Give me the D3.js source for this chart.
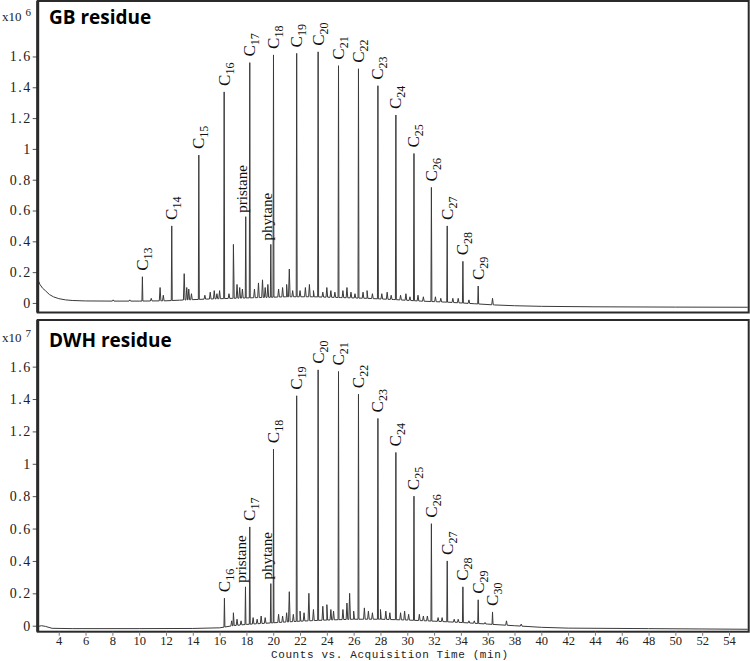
<!DOCTYPE html>
<html><head><meta charset="utf-8">
<script src="https://cdn.jsdelivr.net/npm/d3@7"></script>
<style>body{margin:0;background:#fff}svg{display:block}</style>
</head><body>
<script>
// ---------- DATA ----------
const xTickValues = [4,6,8,10,12,14,16,18,20,22,24,26,28,30,32,34,36,38,40,42,44,46,48,50,52,54];
const yTickValues = [0,0.2,0.4,0.6,0.8,1,1.2,1.4,1.6];
const xTitle = "Counts vs. Acquisition Time (min)";

// GB residue (x10^6)
const gbTitle = "GB residue";
const gbExp = "6";
const gbLabels = ["C13","C14","C15","C16","pristane","C17","phytane","C18","C19","C20","C21","C22","C23","C24","C25","C26","C27","C28","C29"];
const gbTimes  = [10.24,12.43,14.45,16.34,17.95,18.25,19.82,20.02,21.75,23.35,24.87,26.36,27.81,29.15,30.5,31.8,32.98,34.15,35.29];
const gbHeights= [0.17,0.50,0.96,1.37,0.56,1.56,0.38,1.61,1.62,1.63,1.54,1.52,1.41,1.22,0.97,0.75,0.50,0.27,0.11];
const gbBaseT = [2.45,2.6,2.8,3.0,3.3,3.6,4.0,4.5,5.0,6,8,10,12,13,15,17,19,21,23,25,27,29,31,33,35,36.5,38,40,44,50,55.4];
const gbBaseV = [0.15,0.12,0.095,0.08,0.055,0.04,0.028,0.02,0.016,0.013,0.012,0.012,0.014,0.018,0.025,0.03,0.035,0.04,0.04,0.035,0.03,0.022,0.012,0.005,-0.005,-0.013,-0.018,-0.022,-0.025,-0.027,-0.028];
const gbMinorT = [8.06,9.3,10.9,11.56,11.8,13.36,13.55,13.7,13.9,14.9,15.3,15.6,15.8,16.0,16.7,17.03,17.3,17.5,17.7,18.6,18.9,19.2,19.4,19.6,20.4,20.7,21.0,21.2,21.45,22.0,22.4,22.7,23.0,23.7,24.0,24.3,24.6,25.2,25.5,25.8,26.1,26.7,27.0,27.4,28.1,28.5,28.8,29.5,29.9,30.2,30.8,31.2,32.1,32.5,33.4,33.8,34.6,36.36];
const gbMinorV = [0.02,0.02,0.03,0.10,0.05,0.19,0.10,0.09,0.06,0.05,0.07,0.08,0.06,0.08,0.06,0.38,0.12,0.10,0.09,0.09,0.13,0.15,0.10,0.12,0.09,0.10,0.12,0.22,0.08,0.08,0.10,0.12,0.08,0.07,0.10,0.08,0.07,0.08,0.10,0.07,0.06,0.07,0.08,0.06,0.06,0.07,0.05,0.05,0.06,0.04,0.05,0.04,0.04,0.03,0.03,0.03,0.02,0.03];

// DWH residue (x10^7)
const dwhTitle = "DWH residue";
const dwhExp = "7";
const dwhLabels = ["C16","pristane","C17","phytane","C18","C19","C20","C21","C22","C23","C24","C25","C26","C27","C28","C29","C30"];
const dwhTimes  = [16.36,17.93,18.25,19.82,20.02,21.75,23.35,24.87,26.36,27.81,29.15,30.5,31.8,32.98,34.15,35.29,36.36];
const dwhHeights= [0.17,0.24,0.61,0.26,1.09,1.42,1.58,1.57,1.43,1.28,1.07,0.80,0.63,0.40,0.24,0.16,0.085];
const dwhBaseT = [2.45,2.7,3.0,3.5,5,10,14,16,17,18,20,22,24,26,28,30,32,34,36,38,40,42,48,55.4];
const dwhBaseV = [-0.005,0.0,-0.004,-0.016,-0.018,-0.018,-0.017,-0.013,0.0,0.008,0.018,0.028,0.035,0.04,0.04,0.035,0.028,0.02,0.01,0.0,-0.01,-0.015,-0.018,-0.022];
const dwhMinorT = [16.9,17.03,17.3,17.6,18.5,18.8,19.1,19.4,20.4,20.7,21.0,21.2,21.5,22.0,22.3,22.66,23.0,23.7,24.0,24.3,24.5,25.2,25.5,25.7,26.0,26.8,27.1,27.4,28.0,28.4,28.7,29.5,29.8,30.1,30.9,31.2,31.5,32.3,32.6,33.5,33.8,34.6,35.0,35.8,37.4,38.5];
const dwhMinorV = [0.03,0.08,0.04,0.03,0.05,0.04,0.06,0.05,0.07,0.06,0.08,0.21,0.07,0.09,0.08,0.20,0.10,0.12,0.13,0.10,0.09,0.10,0.14,0.20,0.09,0.11,0.09,0.08,0.10,0.09,0.08,0.08,0.09,0.07,0.07,0.06,0.06,0.05,0.05,0.04,0.04,0.03,0.03,0.02,0.03,0.01];

// ---------- DRAW ----------
const W = 750, H = 661;
const svg = d3.select("body").append("svg").attr("width", W).attr("height", H);
const x = d3.scaleLinear().domain([2.43, 55.47]).range([37.7, 748.7]);

const panels = [
  {title: gbTitle, exp: gbExp, labels: gbLabels, times: gbTimes, heights: gbHeights,
   baseT: gbBaseT, baseV: gbBaseV, minT: gbMinorT, minV: gbMinorV,
   top: 1, bottom: 312.5, yDomain: [-0.062, 1.96], titleY: 23.5, expY: 21, axis: false},
  {title: dwhTitle, exp: dwhExp, labels: dwhLabels, times: dwhTimes, heights: dwhHeights,
   baseT: dwhBaseT, baseV: dwhBaseV, minT: dwhMinorT, minV: dwhMinorV,
   top: 320, bottom: 631.7, yDomain: [-0.037, 1.888], titleY: 346.5, expY: 342, axis: true}
];

const fmt = d => (Math.round(d*10)/10).toString();

panels.forEach((p, i) => {
  const y = d3.scaleLinear().domain(p.yDomain).range([p.bottom, p.top]);
  const base = d3.scaleLinear().domain(p.baseT).range(p.baseV).clamp(true);
  const g = svg.append("g");
  const clipId = "clip" + i;
  svg.append("clipPath").attr("id", clipId).append("rect")
    .attr("x", x.range()[0]).attr("y", p.top).attr("width", x.range()[1]-x.range()[0]).attr("height", p.bottom-p.top);

  // build trace
  const pts = p.baseT.map((t, k) => [t, p.baseV[k]]);
  const addPeak = (t, v, w) => {
    pts.push([t - w, base(t - w)]);
    pts.push([t, v]);
    pts.push([t + w, base(t + w)]);
  };
  p.minT.forEach((t, k) => addPeak(t, Math.max(p.minV[k], base(t)), 0.06));
  p.times.forEach((t, k) => addPeak(t, p.heights[k], 0.035));
  pts.sort((a, b) => a[0] - b[0]);
  g.append("path").attr("clip-path", `url(#${clipId})`)
    .attr("d", d3.line().x(d => x(d[0])).y(d => y(d[1]))(pts))
    .attr("fill", "none").attr("stroke", "#3a3a3a").attr("stroke-width", 1);

  // y axis
  const ya = g.append("g").attr("transform", `translate(${x.range()[0]},0)`)
    .call(d3.axisLeft(y).tickValues(yTickValues).tickFormat(fmt).tickSize(5).tickSizeOuter(0).tickPadding(1));
  ya.select(".domain").remove();
  ya.selectAll(".tick line").attr("stroke", "#555");
  ya.selectAll("text").attr("font-family", "Liberation Serif, serif").attr("font-size", 14)
    .attr("fill", "#222").style("letter-spacing", "1.5px");

  // exponent label
  const ex = g.append("text").attr("x", 2).attr("y", p.expY)
    .attr("font-family", "Liberation Serif, serif").attr("font-size", 13).attr("fill", "#222");
  ex.append("tspan").text("x10");
  ex.append("tspan").attr("dx", 4).attr("dy", -5).attr("font-size", 11).text(p.exp);

  // frame
  g.append("rect").attr("x", x.range()[0]).attr("y", p.top)
    .attr("width", x.range()[1]-x.range()[0]).attr("height", p.bottom-p.top)
    .attr("fill", "none").attr("stroke", "#2a2a2a").attr("stroke-width", 2);
  g.append("line").attr("x1", x.range()[0]).attr("x2", x.range()[0]).attr("y1", p.top).attr("y2", p.bottom)
    .attr("stroke", "#2a2a2a").attr("stroke-width", 3);

  // title
  g.append("text").attr("x", 49).attr("y", p.titleY).text(p.title)
    .attr("font-family", "Open Sans, sans-serif").attr("font-weight", 700).attr("font-size", 19).attr("fill", "#000");

  // peak labels
  p.labels.forEach((lab, k) => {
    const px = x(p.times[k]), py = y(p.heights[k]);
    if (lab.startsWith("C")) {
      const t = g.append("text").attr("transform", `translate(${px + 5.5},${py - 6}) rotate(-90)`)
        .attr("font-family", "Liberation Serif, serif").attr("font-size", 17).attr("fill", "#111");
      t.append("tspan").text("C");
      t.append("tspan").attr("font-size", 12).attr("dy", 4).text(lab.slice(1));
    } else {
      g.append("text").attr("transform", `translate(${px + 1},${py - 4}) rotate(-90)`)
        .attr("font-family", "Liberation Serif, serif").attr("font-size", 15).attr("fill", "#111").text(lab);
    }
  });

  if (p.axis) {
    const xa = g.append("g").attr("transform", `translate(0,${p.bottom})`)
      .call(d3.axisBottom(x).tickValues(xTickValues).tickFormat(d3.format("d")).tickSize(4).tickSizeOuter(0).tickPadding(0));
    xa.select(".domain").remove();
    xa.selectAll(".tick line").attr("stroke", "#777");
    xa.selectAll("text").attr("font-family", "Liberation Serif, serif").attr("font-size", 12.5).attr("fill", "#222");
    svg.append("text").attr("x", 271).attr("y", 657.6).text(xTitle)
      .attr("font-family", "Liberation Mono, monospace").attr("font-size", 11).attr("fill", "#222")
      .style("letter-spacing", "0.6px");
  }
});
</script>
</body></html>
